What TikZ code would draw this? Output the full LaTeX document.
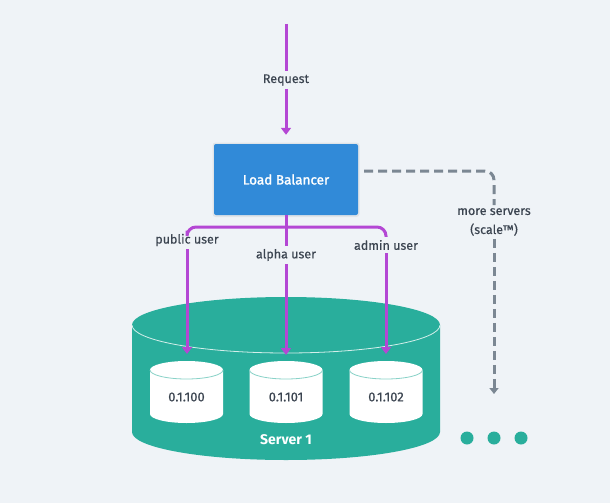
\documentclass[tikz,border=0pt]{standalone}
\usepackage{fontspec}
\setmainfont{Fira Sans}
\newfontfamily\medfont{Fira Sans}[FakeBold=1.6]
\newfontfamily\lblfont{Fira Sans}[FakeBold=0.5]
\usetikzlibrary{arrows.meta,calc}
\definecolor{bgc}{HTML}{EFF3F7}
\definecolor{tealc}{HTML}{29AE9C}
\definecolor{bluec}{HTML}{318AD8}
\definecolor{purc}{HTML}{B447D4}
\definecolor{grayc}{HTML}{7B8793}
\definecolor{txtc}{HTML}{3B4450}
\begin{document}
\begin{tikzpicture}[x=1pt,y=1pt,
  lbl/.style={text=txtc,font=\lblfont\fontsize{12.5}{19}\selectfont,inner sep=3pt,align=center},
  purline/.style={draw=purc,line width=3pt},
  purarrow/.style={purline,-{Triangle[width=10pt,length=7pt]}},
  grayline/.style={draw=grayc,line width=3pt,dash pattern=on 9pt off 5pt},
  grayarrow/.style={grayline,-{Triangle[width=9pt,length=6pt]}},
  lbbox/.style={fill=bluec,rounded corners=2pt,minimum width=144pt,minimum height=71pt,text=white,font=\medfont\fontsize{13.5}{16}\selectfont},
  dbtext/.style={text=txtc,font=\lblfont\fontsize{13}{16}\selectfont},
  dot/.style={circle,fill=tealc,minimum size=13pt,inner sep=0pt}
]
\useasboundingbox (0,0) rectangle (610,-503);
\fill[bgc] (0,0) rectangle (610,-503);

% request
\coordinate (rtop) at (286,-24);
\node[lbl] (req) at (286,-80) {Request};
\fill[black,opacity=0.06,rounded corners=3pt] (212.5,-142.5) rectangle (359.5,-217);
\node[lbbox] (lb) at (286,-179.5) {Load Balancer};
\draw[purline] (rtop) -- (req);
\draw[purarrow] (req) -- ([yshift=9pt]lb.north);

% big cylinder (server)
\fill[tealc] (132,-325) -- (132,-432) arc[start angle=180,end angle=360,x radius=154,y radius=28] -- (440,-325) arc[start angle=0,end angle=180,x radius=154,y radius=28] -- cycle;
\draw[white!80!tealc,line width=0.8pt] (440,-325) arc[start angle=0,end angle=-180,x radius=154,y radius=28];
\node[text=white,font=\fontsize{14}{16}\selectfont\bfseries] (srv) at (286,-440) {Server 1};

% small cylinders
\foreach \cx/\nm/\t in {186.5/c1/0.1.100, 286/c2/0.1.101, 386/c3/0.1.102}{
  \fill[white] (\cx-36.5,-370) -- (\cx-36.5,-414) arc[start angle=180,end angle=360,x radius=36.5,y radius=9] -- (\cx+36.5,-370) arc[start angle=0,end angle=180,x radius=36.5,y radius=9] -- cycle;
  \draw[tealc!55!white,line width=0.8pt] (\cx+36.5,-370) arc[start angle=0,end angle=-180,x radius=36.5,y radius=9];
  \node[dbtext] (\nm) at (\cx,-397) {\t};
}

% branch labels
\node[lbl] (pub) at (187,-240) {public user};
\node[lbl] (alp) at (286,-255) {alpha user};
\node[lbl] (adm) at (386,-245) {admin user};
\coordinate (j) at (286,-227);
\coordinate (e1) at (187,-354);
\coordinate (e2) at (286,-355);
\coordinate (e3) at (386,-354);
\draw[purline,rounded corners=9pt] (pub.north) |- (j) -| (adm.north);
\draw[purline] (lb.south) -- (alp.north);
\draw[purarrow] (pub.south) -- (e1);
\draw[purarrow] (alp.south) -- (e2);
\draw[purarrow] (adm.south) -- (e3);

% more servers
\coordinate (g0) at ([xshift=6pt,yshift=8.5pt]lb.east);
\node[lbl] (more) at (494,-222) {more servers\\(scale™)};
\coordinate (g1) at (494,-394);
\draw[grayline,rounded corners=9pt] (g0) -| (more.north);
\draw[grayarrow] (more.south) -- (g1);

% dots
\node[dot] (d1) at (467,-438) {};
\node[dot] (d2) at (494,-438) {};
\node[dot] (d3) at (521,-438) {};
\end{tikzpicture}
\end{document}
